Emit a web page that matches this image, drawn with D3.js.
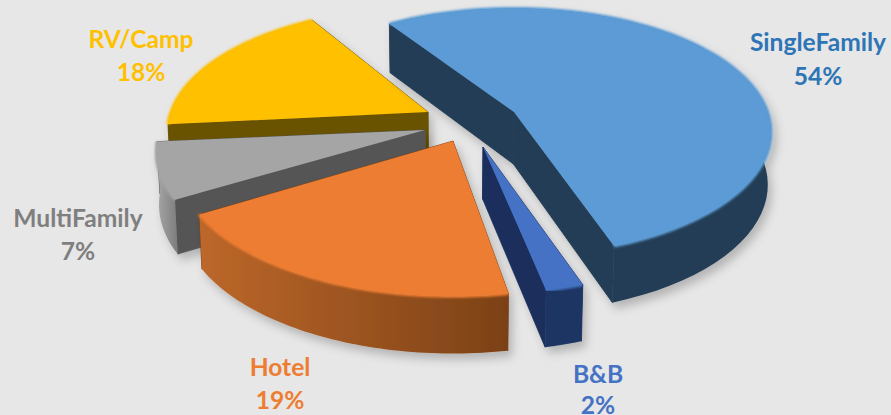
<!DOCTYPE html>
<html>
<head>
<meta charset="utf-8">
<script src="https://cdn.jsdelivr.net/npm/d3@7"></script>
<style>
	html, body { margin: 0; padding: 0; background: #e7e7e7; }
	svg { display: block; }
	text { font-family: Lato, "Open Sans", sans-serif; font-weight: 700; font-size: 24.6px; text-anchor: middle; }
</style>
</head>
<body>
<svg width="891" height="415"></svg>
<script>
// values
var categories = ["SingleFamily", "B&B", "Hotel", "MultiFamily", "RV/Camp"];
var shares = [54, 2, 19, 7, 18];

// styles, same order as categories
var topColors = ["#5b9bd5", "#4472c4", "#ed7d31", "#a5a5a5", "#ffc000"];
var edgeColors = ["#243e55", "#1a2f5c", "#7b4116", "#555555", "#6b5200"];
var rimFrom = ["#243e55", "#1f3564", "#bd672a", "#a8a8a8", "#6b5200"];
var rimTo = ["#243e55", "#1f3564", "#7b4116", "#7c7c7c", "#6b5200"];
var textColors = ["#2e75b6", "#4472c4", "#ed7d31", "#7f7f7f", "#ffc000"];

// layout of the exploded slices
var apexes = [[514, 112], [483, 147], [453, 141], [425, 130], [428, 112]];
var radiusFactor = [0.957, 0.975, 1.02, 1, 0.97];
var spinDeg = [-0.5, 0, 2, 3, 2.5];
var labelSpots = [[818, 51, 85], [598, 383, 414], [280, 376, 409], [78, 227, 260], [141, 48, 81]];
var drawOrder = [4, 3, 0, 2, 1];
var radius = 265, tilt = 0.475, persp = 0.17, depth = 52;
var startDeg = -33.4;

var pie = d3.pie().sort(null)
	.startAngle(startDeg * Math.PI / 180)
	.endAngle((startDeg + 360) * Math.PI / 180);
var arcs = pie(shares);

var svg = d3.select("svg");
var defs = svg.append("defs");

var shadow = defs.append("filter").attr("id", "shadow")
	.attr("x", "-20%").attr("y", "-20%").attr("width", "140%").attr("height", "140%");
shadow.append("feDropShadow")
	.attr("dx", 4).attr("dy", 6).attr("stdDeviation", 5)
	.attr("flood-color", "#000").attr("flood-opacity", 0.22);

var soft = defs.append("filter").attr("id", "soft");
soft.append("feGaussianBlur").attr("stdDeviation", 0.8);

var line = d3.line();

// plane point (bearing from north, clockwise) -> screen, relative to the apex
function project(i, angle, r) {
	var a = angle + spinDeg[i] * Math.PI / 180;
	var R = r * radiusFactor[i];
	var X = R * Math.sin(a), Y = -R * Math.cos(a);
	var s = 1 / (1 - persp * Y / radius);
	return { x: X * s, y: Y * tilt * s, s: s };
}

function topPoint(i, angle, r) {
	var p = project(i, angle, r);
	return [apexes[i][0] + p.x, apexes[i][1] + p.y];
}

function bottomPoint(i, angle, r) {
	var p = project(i, angle, r);
	var x = apexes[i][0] + p.x, y = apexes[i][1] + p.y;
	return [450 + (x - 450) * 0.99, y + depth * Math.sqrt(p.s)];
}

function arcAngles(d) {
	return d3.range(0, 61).map(function (k) {
		return d.startAngle + (d.endAngle - d.startAngle) * k / 60;
	});
}

drawOrder.forEach(function (i) {
	var d = arcs[i];
	var angles = arcAngles(d);
	var g = svg.append("g").attr("filter", "url(#shadow)");

	var gradient = defs.append("linearGradient").attr("id", "rim" + i)
		.attr("x1", 0).attr("x2", 1).attr("y1", 0).attr("y2", 0);
	gradient.append("stop").attr("offset", 0).attr("stop-color", rimFrom[i]);
	gradient.append("stop").attr("offset", 1).attr("stop-color", rimTo[i]);

	// the two cut faces
	[d.startAngle, d.endAngle].forEach(function (a) {
		g.append("path")
			.attr("d", line([
				topPoint(i, a, 0), topPoint(i, a, radius),
				bottomPoint(i, a, radius), bottomPoint(i, a, 0)
			]) + "Z")
			.attr("fill", edgeColors[i])
			.attr("stroke", edgeColors[i])
			.attr("stroke-width", 0.8);
	});

	// outer rim
	var rimTop = angles.map(function (a) { return topPoint(i, a, radius); });
	var rimBottom = angles.map(function (a) { return bottomPoint(i, a, radius); }).reverse();
	g.append("path")
		.attr("d", line(rimTop.concat(rimBottom)) + "Z")
		.attr("fill", "url(#rim" + i + ")");

	// top face
	var outline = [topPoint(i, 0, 0)].concat(rimTop);
	g.append("path")
		.attr("d", line(outline) + "Z")
		.attr("fill", topColors[i]);

	// soft bevel along the rim
	g.append("path")
		.attr("d", line(rimTop))
		.attr("fill", "none")
		.attr("stroke", topColors[i])
		.attr("stroke-width", 3)
		.attr("filter", "url(#soft)");
});

// labels
categories.forEach(function (name, i) {
	svg.append("text").attr("x", labelSpots[i][0]).attr("y", labelSpots[i][1])
		.attr("fill", textColors[i]).text(name);
	svg.append("text").attr("x", labelSpots[i][0]).attr("y", labelSpots[i][2])
		.attr("fill", textColors[i]).text(shares[i] + "%");
});
</script>
</body>
</html>
